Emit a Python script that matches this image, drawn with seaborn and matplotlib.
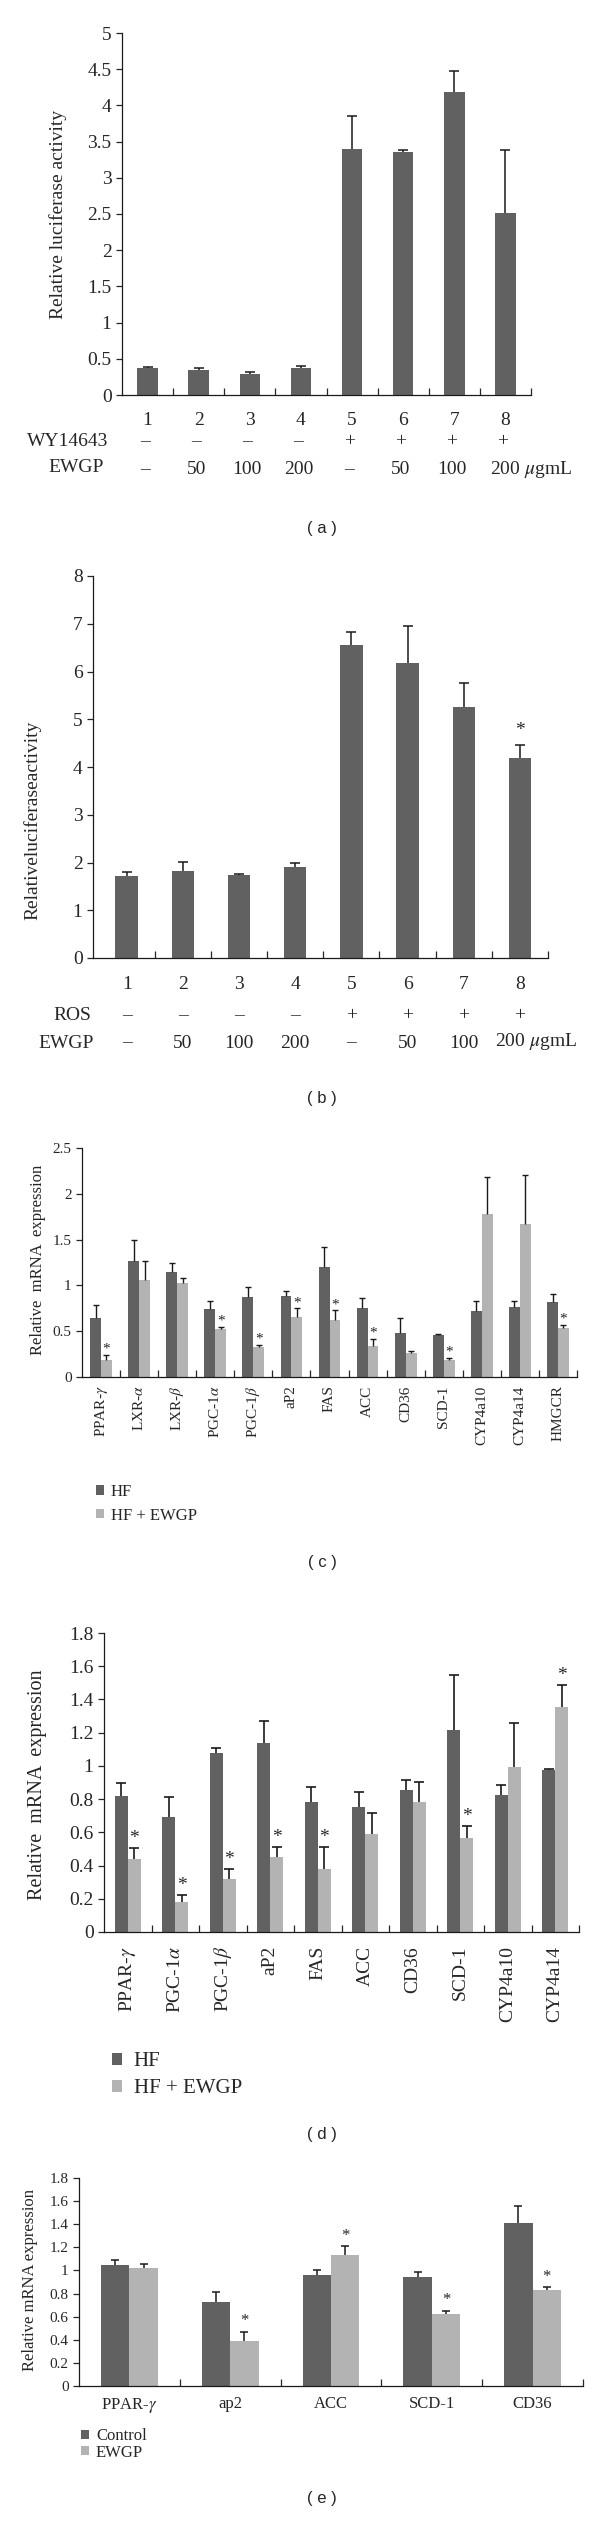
import numpy as np
import pandas as pd
import seaborn as sns
import matplotlib.pyplot as plt
from matplotlib import transforms

sns.set_style("ticks")
plt.rcParams['font.family'] = ['Liberation Serif', 'DejaVu Serif']
plt.rcParams['mathtext.fontset'] = 'stix'

DARK = "#616161"
LIGHT = "#b3b3b3"

# ---- data ----
# (a) luciferase, WY14643
a_groups = ["1", "2", "3", "4", "5", "6", "7", "8"]
a_mean = [0.37, 0.345, 0.295, 0.37, 3.40, 3.35, 4.19, 2.51]
a_sd = [0.01, 0.025, 0.025, 0.03, 0.46, 0.03, 0.29, 0.88]
a_wy = ["–", "–", "–", "–", "+", "+", "+", "+"]
a_ewgp = ["–", "50", "100", "200", "–", "50", "100", "200"]

# (b) luciferase, ROS
b_groups = ["1", "2", "3", "4", "5", "6", "7", "8"]
b_mean = [1.71, 1.83, 1.73, 1.91, 6.55, 6.18, 5.25, 4.19]
b_sd = [0.09, 0.18, 0.02, 0.08, 0.28, 0.77, 0.50, 0.28]
b_ros = ["–", "–", "–", "–", "+", "+", "+", "+"]
b_ewgp = ["–", "50", "100", "200", "–", "50", "100", "200"]
b_star = [7]

# (c) mRNA, 13 genes
c_genes = ["PPAR-$\\gamma$", "LXR-$\\alpha$", "LXR-$\\beta$", "PGC-1$\\alpha$", "PGC-1$\\beta$",
           "aP2", "FAS", "ACC", "CD36", "SCD-1", "CYP4a10", "CYP4a14", "HMGCR"]
c_hf = [0.64, 1.27, 1.15, 0.74, 0.877, 0.888, 1.20, 0.755, 0.478, 0.463, 0.72, 0.76, 0.815]
c_hf_sd = [0.145, 0.23, 0.09, 0.09, 0.11, 0.05, 0.22, 0.105, 0.17, 0.01, 0.11, 0.07, 0.095]
c_ew = [0.19, 1.06, 1.03, 0.52, 0.33, 0.655, 0.626, 0.333, 0.267, 0.185, 1.775, 1.67, 0.533]
c_ew_sd = [0.05, 0.21, 0.05, 0.025, 0.02, 0.095, 0.10, 0.085, 0.015, 0.025, 0.405, 0.53, 0.04]
c_star = [0, 3, 4, 5, 6, 7, 9, 12]

# (d) mRNA, 10 genes
d_genes = ["PPAR-$\\gamma$", "PGC-1$\\alpha$", "PGC-1$\\beta$", "aP2", "FAS", "ACC",
           "CD36", "SCD-1", "CYP4a10", "CYP4a14"]
d_hf = [0.82, 0.69, 1.075, 1.137, 0.78, 0.75, 0.855, 1.217, 0.827, 0.974]
d_hf_sd = [0.075, 0.12, 0.032, 0.131, 0.09, 0.09, 0.058, 0.333, 0.058, 0.01]
d_ew = [0.44, 0.18, 0.32, 0.45, 0.38, 0.588, 0.78, 0.565, 0.994, 1.356]
d_ew_sd = [0.065, 0.043, 0.06, 0.06, 0.133, 0.13, 0.125, 0.075, 0.266, 0.133]
d_star = [0, 1, 2, 3, 4, 7, 9]

# (e) mRNA, control vs EWGP
e_genes = ["PPAR-$\\gamma$", "ap2", "ACC", "SCD-1", "CD36"]
e_ctrl = [1.046, 0.725, 0.957, 0.939, 1.408]
e_ctrl_sd = [0.041, 0.087, 0.043, 0.047, 0.153]
e_ew = [1.023, 0.393, 1.13, 0.621, 0.829]
e_ew_sd = [0.035, 0.078, 0.078, 0.032, 0.029]
e_star = [1, 2, 3, 4]

W, H = 600, 2537
fig = plt.figure(figsize=(W / 100, H / 100), dpi=100)


def rect(l, r, t, b):
    return [l / W, 1 - b / H, (r - l) / W, (b - t) / H]


def fy(ypx):
    return 1 - ypx / H


def add_err(ax, container, sd, lw=1.1, cap=3.5):
    xs = [p.get_x() + p.get_width() / 2 for p in container.patches]
    ys = [p.get_height() for p in container.patches]
    _, caps, _ = ax.errorbar(xs, ys, yerr=[np.zeros(len(sd)), sd], fmt="none",
                             ecolor="#1a1a1a", elinewidth=lw, capsize=cap, capthick=lw)
    caps[0].set_visible(False)
    return xs, ys


def style(ax, n, ymax, ystep, fs, xlim=None):
    sns.despine(ax=ax)
    ax.set_ylim(0, ymax)
    ax.set_yticks(np.arange(0, ymax + 1e-9, ystep))
    ax.set_yticklabels([f"{v:g}" for v in np.arange(0, ymax + 1e-9, ystep)], fontsize=fs)
    ax.set_xlim(xlim if xlim else (-0.5, n - 0.5))
    ax.set_xticks(np.arange(n) + 0.5, minor=True)
    ax.tick_params(axis="x", which="major", length=0)
    ax.tick_params(axis="x", which="minor", direction="in", length=5, width=0.9)
    ax.tick_params(axis="y", direction="out", length=4, width=0.9)
    for s in ["left", "bottom"]:
        ax.spines[s].set_linewidth(0.9)
        ax.spines[s].set_color("#1a1a1a")
    ax.set_xlabel("")
    ax.set_ylabel("")


def caption(txt, ypx):
    fig.text(322 / W, fy(ypx), txt, ha="center", va="center", fontsize=12,
             family="Liberation Sans")


# ---------- (a) ----------
ax = fig.add_axes(rect(122, 531, 33, 395))
df = pd.DataFrame({"grp": a_groups, "val": a_mean})
sns.barplot(data=df, x="grp", y="val", color=DARK, saturation=1, width=0.4,
            errorbar=None, linewidth=0, ax=ax)
add_err(ax, ax.containers[0], a_sd)
style(ax, 8, 5, 0.5, 14)
ax.tick_params(axis="x", which="major", labelsize=14, pad=12)
fig.text(58 / W, fy(214), "Relative luciferase activity", rotation=90,
         ha="center", va="center", fontsize=14)
tr = transforms.blended_transform_factory(ax.transData, fig.transFigure)
fig.text(108 / W, fy(442), "WY14643", ha="right", va="center", fontsize=14)
fig.text(104 / W, fy(468), "EWGP", ha="right", va="center", fontsize=14)
for i in range(8):
    ax.text(i - 0.05, fy(442), a_wy[i], transform=tr, ha="center", va="center", fontsize=14)
    if i < 7:
        ax.text(i - 0.05, fy(470), a_ewgp[i], transform=tr, ha="center", va="center", fontsize=14)
ax.text(7 - 0.3, fy(470), "200 $\\mu$gmL", transform=tr, ha="left", va="center", fontsize=14)
caption("( a )", 528)

# ---------- (b) ----------
ax = fig.add_axes(rect(93, 548, 576, 958))
df = pd.DataFrame({"grp": b_groups, "val": b_mean})
sns.barplot(data=df, x="grp", y="val", color=DARK, saturation=1, width=0.4,
            errorbar=None, linewidth=0, ax=ax)
xs, ys = add_err(ax, ax.containers[0], b_sd)
for i in b_star:
    ax.text(xs[i], ys[i] + b_sd[i] + 0.12, "*", ha="center", va="bottom", fontsize=14)
style(ax, 8, 8, 1, 14, xlim=(-0.6, 7.5))
ax.tick_params(axis="x", which="major", labelsize=14, pad=13)
fig.text(32 / W, fy(820), "Relativeluciferaseactivity", rotation=90,
         ha="center", va="center", fontsize=14)
tr = transforms.blended_transform_factory(ax.transData, fig.transFigure)
fig.text(91 / W, fy(1016), "ROS", ha="right", va="center", fontsize=14)
fig.text(94 / W, fy(1043), "EWGP", ha="right", va="center", fontsize=14)
for i in range(8):
    ax.text(i, fy(1016), b_ros[i], transform=tr, ha="center", va="center", fontsize=14)
    if i < 7:
        ax.text(i, fy(1043), b_ewgp[i], transform=tr, ha="center", va="center", fontsize=14)
ax.text(7 - 0.45, fy(1041), "200 $\\mu$gmL", transform=tr, ha="left", va="center", fontsize=14)
caption("( b )", 1099)


def grouped(ax, genes, s1, s2, names, width):
    df = pd.DataFrame({
        "gene": list(range(len(genes))) * 2,
        "val": list(s1) + list(s2),
        "grp": [names[0]] * len(genes) + [names[1]] * len(genes),
    })
    sns.barplot(data=df, x="gene", y="val", hue="grp", palette=[DARK, LIGHT],
                saturation=1, width=width, errorbar=None, linewidth=0, ax=ax)


def place_legend(ax, xpx, ypx, fs, hl, pad, sp):
    h, l = ax.get_legend_handles_labels()
    ax.get_legend().remove()
    fig.legend(h, l, loc="upper left", bbox_to_anchor=(xpx / W, fy(ypx)), frameon=False,
               fontsize=fs, handlelength=hl, handleheight=hl, handletextpad=pad,
               labelspacing=sp, borderpad=0, borderaxespad=0)


# ---------- (c) ----------
ax = fig.add_axes(rect(82, 577, 1148, 1377))
grouped(ax, c_genes, c_hf, c_ew, ["HF", "HF + EWGP"], 0.57)
add_err(ax, ax.containers[0], c_hf_sd, lw=1.0, cap=2.5)
xs, ys = add_err(ax, ax.containers[1], c_ew_sd, lw=1.0, cap=2.5)
for i in c_star:
    ax.text(xs[i], ys[i] + c_ew_sd[i] - 0.01, "*", ha="center", va="bottom", fontsize=11)
style(ax, 13, 2.5, 0.5, 11)
ax.set_xticks(range(13))
ax.set_xticklabels(c_genes, rotation=90, fontsize=11)
ax.tick_params(axis="x", which="major", pad=6)
fig.text(38 / W, fy(1260), "Relative  mRNA  expression", rotation=90,
         ha="center", va="center", fontsize=12)
place_legend(ax, 96, 1484, 12, 0.5, 0.4, 0.45)
caption("( c )", 1563)

# ---------- (d) ----------
ax = fig.add_axes(rect(104, 579, 1633, 1932))
grouped(ax, d_genes, d_hf, d_ew, ["HF", "HF + EWGP"], 0.54)
add_err(ax, ax.containers[0], d_hf_sd, lw=1.2, cap=3.5)
xs, ys = add_err(ax, ax.containers[1], d_ew_sd, lw=1.2, cap=3.5)
for i in d_star:
    ax.text(xs[i], ys[i] + d_ew_sd[i] + 0.005, "*", ha="center", va="bottom", fontsize=14)
style(ax, 10, 1.8, 0.2, 14)
ax.set_xticks(range(10))
ax.set_xticklabels(d_genes, rotation=90, fontsize=14)
ax.tick_params(axis="x", which="major", pad=10)
fig.text(38 / W, fy(1785), "Relative  mRNA  expression", rotation=90,
         ha="center", va="center", fontsize=14.5)
place_legend(ax, 112, 2052, 15, 0.5, 0.55, 0.4)
caption("( d )", 2135)

# ---------- (e) ----------
ax = fig.add_axes(rect(79, 583, 2178, 2386))
grouped(ax, e_genes, e_ctrl, e_ew, ["Control", "EWGP"], 0.565)
add_err(ax, ax.containers[0], e_ctrl_sd, lw=1.1, cap=3)
xs, ys = add_err(ax, ax.containers[1], e_ew_sd, lw=1.1, cap=3)
for i in e_star:
    ax.text(xs[i], ys[i] + e_ew_sd[i] + 0.02, "*", ha="center", va="bottom", fontsize=12)
style(ax, 5, 1.8, 0.2, 11)
ax.set_xticks(range(5))
ax.set_xticklabels(e_genes, fontsize=12)
ax.tick_params(axis="x", which="major", pad=7)
fig.text(30 / W, fy(2280), "Relative mRNA expression", rotation=90,
         ha="center", va="center", fontsize=12)
place_legend(ax, 81, 2428, 12, 0.45, 0.45, 0.05)
caption("( e )", 2498)

fig.savefig("out.png", dpi=100)
